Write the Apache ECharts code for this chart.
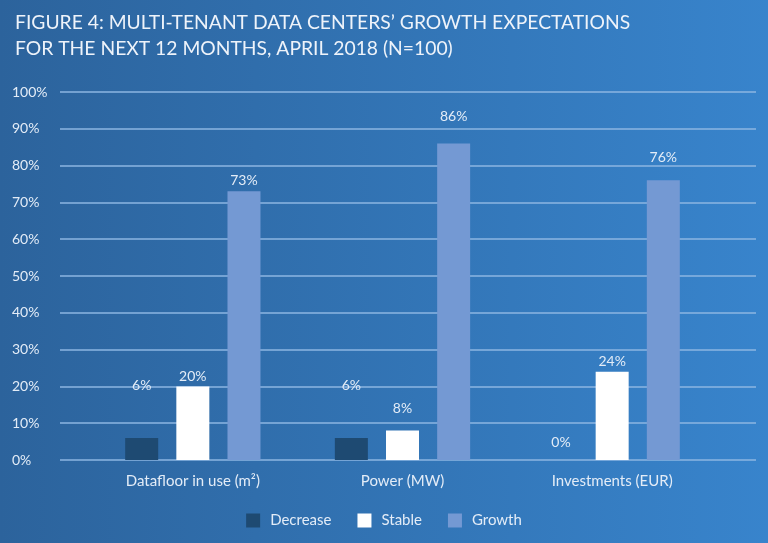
<!DOCTYPE html>
<html><head><meta charset="utf-8">
<script src="https://cdn.jsdelivr.net/npm/echarts@6/dist/echarts.min.js"></script>
<style>html,body{margin:0;padding:0;}#c{width:768px;height:543px;}</style>
</head><body><div id="c"></div>
<script>
const categories = ['Datafloor in use (m\u00B2)', 'Power (MW)', 'Investments (EUR)'];
const decrease = [6, 6, 0];
const stable = [20, 8, 24];
const growth = [73, 86, 76];
const yTicks = [0, 10, 20, 30, 40, 50, 60, 70, 80, 90, 100];

const txt = '#e3ecf7';
const font = 'Lato';
const lift = {decrease:[45, 45, 11], stable:[3, 15, 3], growth:[4, 20, 16]};

function mk(name, vals, color, key) {
  return {
    name, type: 'bar', xAxisIndex: 1, yAxisIndex: 1,
    barWidth: 33, barGap: '55%',
    itemStyle: {color},
    data: vals.map((v, i) => ({value: v, label: {offset: [0, -lift[key][i]]}})),
    label: {show: true, position: 'top', formatter: '{c}%', color: txt, fontFamily: font, fontSize: 14, distance: 0}
  };
}

const chart = echarts.init(document.getElementById('c'));
chart.setOption({
  backgroundColor: {type: 'linear', x: 0, y: 0, x2: 1, y2: 0,
    colorStops: [{offset: 0, color: '#2c639c'}, {offset: 1, color: '#3884cc'}]},
  animation: false,
  title: {
    text: "FIGURE 4: MULTI-TENANT DATA CENTERS\u2019 GROWTH EXPECTATIONS\nFOR THE NEXT 12 MONTHS, APRIL 2018 (N=100)",
    left: 10, top: 5,
    textStyle: {color: '#eef3fa', fontFamily: font, fontWeight: 'normal', fontSize: 19.3, lineHeight: 26}
  },
  legend: {
    bottom: 10, left: 'center', itemWidth: 14, itemHeight: 14, itemGap: 26,
    icon: 'rect',
    textStyle: {color: txt, fontFamily: font, fontSize: 15, padding: [0, 0, 0, 5]},
    data: ['Decrease', 'Stable', 'Growth']
  },
  grid: [
    {left: 60, right: 12, top: 92, bottom: 83},
    {left: 88, right: 51, top: 92, bottom: 83}
  ],
  xAxis: [
    {type: 'value', gridIndex: 0, show: false, min: 0, max: 1},
    {type: 'category', gridIndex: 1, data: categories,
      axisLine: {show: false}, axisTick: {show: false},
      axisLabel: {color: txt, fontFamily: font, fontSize: 15, margin: 14}}
  ],
  yAxis: [
    {type: 'value', gridIndex: 0, min: 0, max: 100, interval: 10,
      axisLine: {show: false}, axisTick: {show: false},
      splitLine: {lineStyle: {color: '#8cb6e2', width: 1.5}},
      axisLabel: {color: txt, fontFamily: font, fontSize: 14, align: 'left', margin: 48,
        formatter: v => yTicks.includes(v) ? v + '%' : ''}},
    {type: 'value', gridIndex: 1, min: 0, max: 100, interval: 10, show: false, splitLine: {show: false}}
  ],
  series: [
    mk('Decrease', decrease, '#1e4a72', 'decrease'),
    mk('Stable', stable, '#ffffff', 'stable'),
    mk('Growth', growth, '#7499d3', 'growth')
  ]
});
</script></body></html>
